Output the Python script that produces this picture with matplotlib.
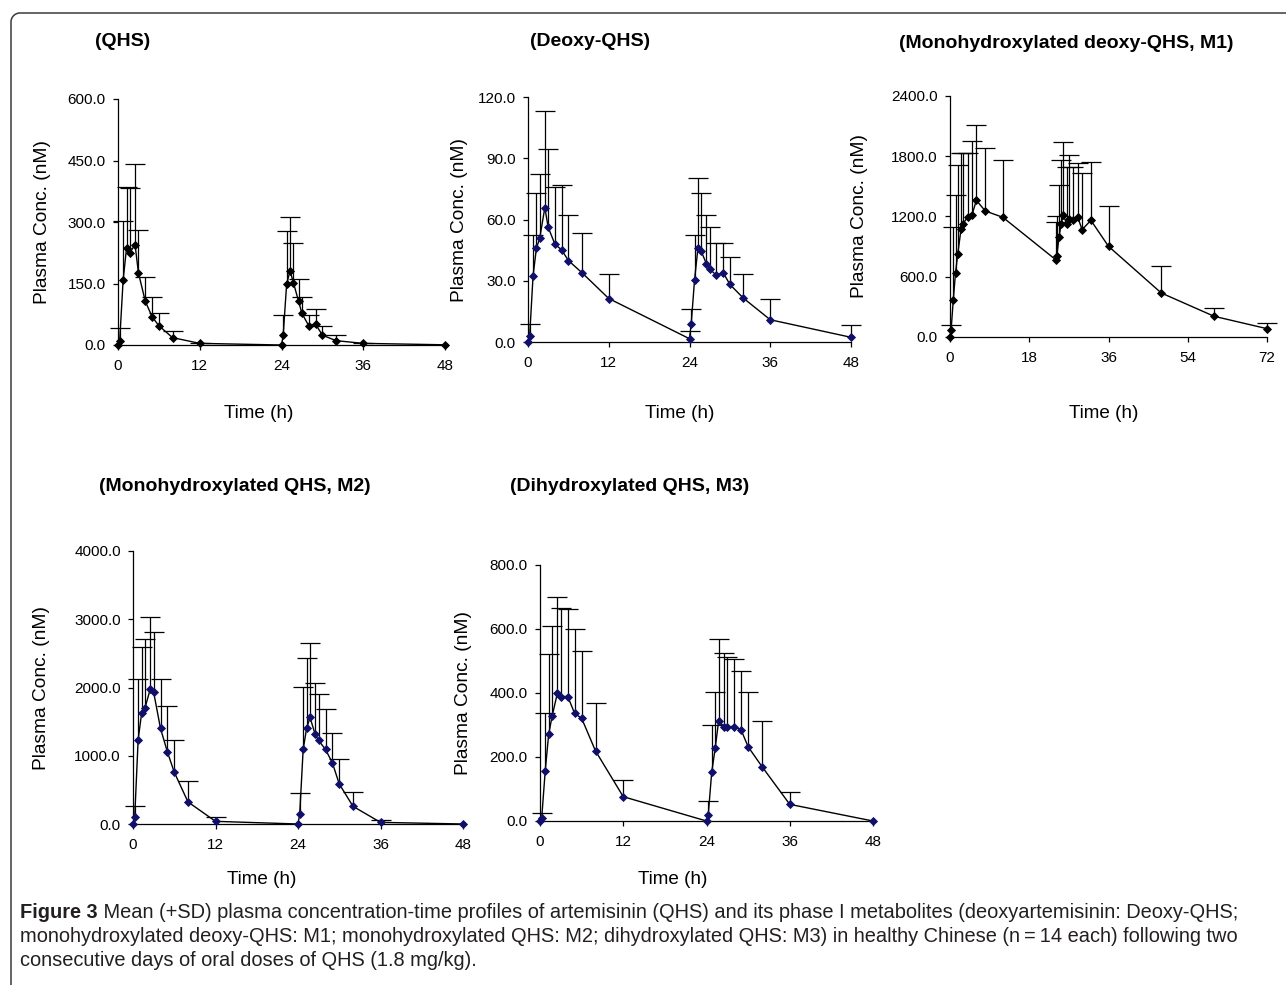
import numpy as np
import matplotlib
matplotlib.use("Agg")
import matplotlib.pyplot as plt
from matplotlib import font_manager as fm
from matplotlib.lines import Line2D

# ---------------- data ----------------
time_h = [0, 0.25, 0.75, 1.25, 1.75, 2.5, 3, 4, 5, 6, 8, 12,
          24, 24.25, 24.75, 25.25, 25.75, 26.5, 27, 28, 29, 30, 32, 36, 48]
time_m1 = time_h + [60, 72]

qhs_mean = [0, 10.6, 158, 236, 225, 245, 176, 107, 69, 47, 18, 4,
            0, 24, 148, 181, 152, 107, 77, 47, 51, 24, 10.6, 4, 0.5]
qhs_sd = [0, 32, 145, 149, 157, 196, 104, 60, 49, 30, 15, 2,
          0, 49, 130, 130, 96, 54, 41, 26, 36, 22, 13, 2, 0]

deoxy_mean = [0, 3.1, 32.4, 45.9, 51.0, 65.8, 56.2, 47.9, 45.1, 39.9, 34.0, 21.3,
              1.6, 8.8, 30.4, 45.9, 44.4, 38.4, 35.8, 32.6, 34.0, 28.2, 21.5, 10.9, 2.3]
deoxy_sd = [0, 5.7, 20.0, 27.2, 31.5, 47.2, 38.2, 28.1, 31.7, 22.1, 19.2, 12.2,
            3.6, 7.5, 22.0, 34.5, 28.7, 23.8, 20.4, 16.1, 14.7, 13.2, 12.0, 10.4, 5.8]

m1_mean = [0, 70, 372, 637, 823, 1072, 1129, 1195, 1218, 1361, 1255, 1192,
           770, 803, 993, 1129, 1215, 1122, 1175, 1162, 1195, 1069, 1162, 903, 438, 206, 83]
m1_sd = [0, 46, 720, 777, 890, 758, 707, 641, 734, 751, 624, 571,
         378, 402, 521, 634, 730, 575, 638, 535, 535, 561, 584, 405, 269, 80, 60]

m2_mean = [0, 103, 1238, 1620, 1703, 1973, 1933, 1400, 1057, 759, 323, 39,
           0, 147, 1092, 1400, 1561, 1312, 1224, 1092, 896, 587, 259, 24, 0]
m2_sd = [0, 166, 891, 974, 1014, 1062, 886, 729, 671, 479, 313, 64,
         0, 308, 915, 1028, 1087, 749, 675, 587, 440, 367, 211, 40, 0]

m3_mean = [0, 10.4, 156, 271, 328, 399, 389, 389, 336, 321, 219, 76,
           0, 19, 152, 227, 313, 295, 295, 295, 284, 232, 170, 52, 0]
m3_sd = [0, 14, 180, 250, 281, 302, 278, 274, 264, 210, 151, 52,
         0, 45, 148, 175, 255, 231, 216, 211, 186, 170, 143, 38, 0]

titles = ["(QHS)", "(Deoxy-QHS)", "(Monohydroxylated deoxy-QHS, M1)",
          "(Monohydroxylated QHS, M2)", "(Dihydroxylated QHS, M3)"]
y_ticks = [[0, 150, 300, 450, 600], [0, 30, 60, 90, 120],
           [0, 600, 1200, 1800, 2400], [0, 1000, 2000, 3000, 4000],
           [0, 200, 400, 600, 800]]
x_ticks = [[0, 12, 24, 36, 48], [0, 12, 24, 36, 48], [0, 18, 36, 54, 72],
           [0, 12, 24, 36, 48], [0, 12, 24, 36, 48]]
ylabel = "Plasma Conc. (nM)"
xlabel = "Time (h)"
caption_bold = "Figure 3"
caption_lines = [
    " Mean (+SD) plasma concentration-time profiles of artemisinin (QHS) and its phase I metabolites (deoxyartemisinin: Deoxy-QHS;",
    "monohydroxylated deoxy-QHS: M1; monohydroxylated QHS: M2; dihydroxylated QHS: M3) in healthy Chinese (n\u2009=\u200914 each) following two",
    "consecutive days of oral doses of QHS (1.8 mg/kg).",
]

# ---------------- layout ----------------
W, H = 1286, 985
plt.rcParams['font.family'] = ['Liberation Sans', 'DejaVu Sans']
fig = plt.figure(figsize=(W / 100, H / 100), dpi=100)

def fx(x):
    return x / W

def fy(y):
    return 1 - y / H

panels = [
    dict(t=time_h, m=qhs_mean, s=qhs_sd, box=(118, 445, 99, 345), fc='black',
         ylx=43, tx=95, ty=42, xlx=259, xly=413),
    dict(t=time_h, m=deoxy_mean, s=deoxy_sd, box=(528, 851, 97, 342), fc='#10106a',
         ylx=460, tx=530, ty=42, xlx=680, xly=413),
    dict(t=time_m1, m=m1_mean, s=m1_sd, box=(950, 1267, 96, 337), fc='black',
         ylx=860, tx=899, ty=43, xlx=1104, xly=413),
    dict(t=time_h, m=m2_mean, s=m2_sd, box=(133, 463, 551, 824), fc='#10106a',
         ylx=42, tx=99, ty=487, xlx=262, xly=879),
    dict(t=time_h, m=m3_mean, s=m3_sd, box=(540, 873, 565, 821), fc='#10106a',
         ylx=463, tx=510, ty=487, xlx=673, xly=879),
]

for i, p in enumerate(panels):
    l, r, t, b = p['box']
    ax = fig.add_axes([fx(l), fy(b), (r - l) / W, (b - t) / H])
    tt = np.array(p['t'], dtype=float)
    mm = np.array(p['m'], dtype=float)
    ss = np.array(p['s'], dtype=float)
    keep = ss > 0
    eb = ax.errorbar(tt[keep], mm[keep], yerr=[np.zeros(keep.sum()), ss[keep]],
                     fmt='none', ecolor='black', elinewidth=0.9, capsize=7,
                     capthick=0.9, clip_on=False, zorder=2)
    caps = eb[1]
    if len(caps) >= 2:
        caps[0].set_visible(False)   # only the upper (+SD) cap is shown
    ax.plot(tt, mm, color='black', lw=1.0, marker='D', ms=4.5,
            mfc=p['fc'], mec=p['fc'] if p['fc'] != 'black' else 'black',
            mew=0.6, clip_on=False, zorder=3)
    ax.set_xlim(x_ticks[i][0], x_ticks[i][-1])
    ax.set_ylim(y_ticks[i][0], y_ticks[i][-1])
    ax.set_xticks(x_ticks[i])
    ax.set_yticks(y_ticks[i])
    ax.set_yticklabels([f"{v:.1f}" for v in y_ticks[i]])
    for side in ('top', 'right'):
        ax.spines[side].set_visible(False)
    for side in ('left', 'bottom'):
        ax.spines[side].set_linewidth(0.9)
    ax.tick_params(direction='out', length=3.8, width=0.9, labelsize=11,
                   colors='black')
    ax.tick_params(axis='y', pad=5)
    ax.tick_params(axis='x', pad=6)
    ax.patch.set_alpha(0)
    fig.text(fx(p['ylx']), fy((t + b) / 2), ylabel, rotation=90,
             ha='center', va='center', fontsize=13.8)
    fig.text(fx(p['tx']), fy(p['ty']), titles[i], ha='left', va='center',
             fontsize=14, fontweight='bold')
    fig.text(fx(p['xlx']), fy(p['xly']), xlabel, ha='center', va='center',
             fontsize=13.6)

# ---------------- caption ----------------
names = {f.name for f in fm.fontManager.ttflist}
cap_font = 'Liberation Sans Narrow' if 'Liberation Sans Narrow' in names else 'Liberation Sans'
cap_family = [cap_font, 'DejaVu Sans']
cap_color = '#231f20'
renderer = fig.canvas.get_renderer()

def text_width(s, size, weight='normal'):
    tx = fig.text(0, 0, s, fontsize=size, fontweight=weight, family=cap_family)
    w = tx.get_window_extent(renderer).width
    tx.remove()
    return w

target = 1243 - 20
base = 12.0
w0 = text_width(caption_bold, base, 'bold') + text_width(caption_lines[0], base)
cap_size = base * target / w0

x0 = 20
ys = [913, 937, 961]
tb = fig.text(fx(x0), fy(ys[0]), caption_bold, fontsize=cap_size, fontweight='bold',
              family=cap_family, ha='left', va='center', color=cap_color)
bw = tb.get_window_extent(renderer).width
fig.text(fx(x0 + bw), fy(ys[0]), caption_lines[0], fontsize=cap_size,
         family=cap_family, ha='left', va='center', color=cap_color)
for k in (1, 2):
    fig.text(fx(x0), fy(ys[k]), caption_lines[k], fontsize=cap_size,
             family=cap_family, ha='left', va='center', color=cap_color)

# ---------------- frame ----------------
rad = 9
cx, cy = 11 + rad, 13 + rad
ang = np.linspace(np.pi / 2, np.pi, 20)
arc_x = cx + rad * np.cos(ang)
arc_y = cy - rad * np.sin(ang)
fx_pts = [W] + list(arc_x) + [11]
fy_pts = [13] + list(arc_y) + [H]
fig.add_artist(Line2D([fx(v) for v in fx_pts], [fy(v) for v in fy_pts],
                      color='#3a3a3a', lw=1.1))

fig.savefig("out.png", dpi=100)
